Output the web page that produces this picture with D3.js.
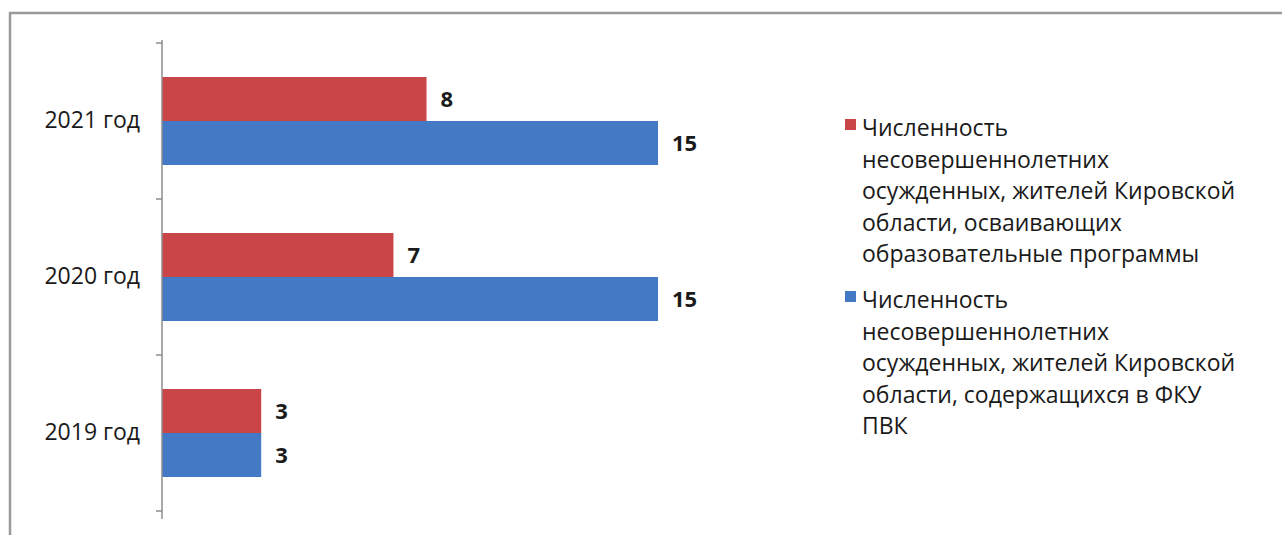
<!DOCTYPE html>
<html>
<head>
<meta charset="utf-8">
<script src="https://cdn.jsdelivr.net/npm/d3@7"></script>
<style>
  body { margin: 0; background: #fff; }
  svg { display: block; }
  text { font-family: "Open Sans", "DejaVu Sans", sans-serif; fill: #1a1a1a; }
</style>
</head>
<body>
<svg id="chart"></svg>
<script>
// categories, top to bottom
const years = ["2021 год", "2020 год", "2019 год"]
const seriesNames = [
  "Численность несовершеннолетних осужденных, жителей Кировской области, осваивающих образовательные программы",
  "Численность несовершеннолетних осужденных, жителей Кировской области, содержащихся в ФКУ ПВК"
]
const studying = [8, 7, 3]
const held = [15, 15, 3]
const seriesColors = ["#c94548", "#4479c6"]

const legendLines = [
  ["Численность", "несовершеннолетних", "осужденных, жителей Кировской", "области, осваивающих", "образовательные программы"],
  ["Численность", "несовершеннолетних", "осужденных, жителей Кировской", "области, содержащихся в ФКУ", "ПВК"]
]

const width = 1282, height = 535
const svg = d3.select("#chart").attr("width", width).attr("height", height)

// frame (only top and left edges are visible)
svg.append("line").attr("x1", 9).attr("x2", width).attr("y1", 13).attr("y2", 13)
  .attr("stroke", "#9a9a9a").attr("stroke-width", 2.5)
svg.append("line").attr("x1", 10).attr("x2", 10).attr("y1", 12).attr("y2", height)
  .attr("stroke", "#9a9a9a").attr("stroke-width", 2.5)

const x0 = 162
const y = d3.scaleBand().domain(years).range([43, 511]).paddingInner(0).paddingOuter(0)
const x = d3.scaleLinear().domain([0, 15]).range([x0, 658])
const inner = 44

const rows = years.map((yr, i) => ({ year: yr, vals: [studying[i], held[i]] }))

const g = svg.append("g")
rows.forEach(r => {
  const c = y(r.year) + y.bandwidth() / 2
  r.vals.forEach((v, s) => {
    const top = c - inner + s * inner
    g.append("rect")
      .attr("x", x(0)).attr("y", top)
      .attr("width", x(v) - x(0)).attr("height", inner)
      .attr("fill", seriesColors[s])
    g.append("text")
      .attr("x", x(v) + 14).attr("y", top + inner / 2)
      .attr("dy", "0.35em")
      .style("font-weight", "bold").style("font-size", "22px")
      .text(v)
  })
})

// category axis
const axis = d3.axisLeft(y).tickSize(0).tickPadding(22)
const ax = svg.append("g").attr("transform", `translate(${x0},0)`).call(axis)
ax.select(".domain").attr("stroke", "#8c8c8c").attr("stroke-width", 1.5)
  .attr("d", `M0,${y.range()[0] - 3}V${y.range()[1] + 8}`)
ax.selectAll(".tick text").style("font-size", "23px").attr("fill", "#1a1a1a")
  .attr("font-family", null)
// separator ticks between categories
const seps = years.map(d => y(d)).concat([y.range()[1]])
ax.selectAll(".sep").data(seps).enter().append("line")
  .attr("x1", -6).attr("x2", 0).attr("y1", d => d).attr("y2", d => d)
  .attr("stroke", "#8c8c8c").attr("stroke-width", 1.5)

// legend
const lg = svg.append("g").attr("transform", "translate(845,0)")
const legendTop = [136, 308]
legendLines.forEach((lines, s) => {
  lg.append("rect").attr("x", 0).attr("y", legendTop[s] - 17).attr("width", 11).attr("height", 11)
    .attr("fill", seriesColors[s])
  lines.forEach((ln, k) => {
    lg.append("text").attr("x", 17).attr("y", legendTop[s] + k * 31.5)
      .style("font-size", "23px").text(ln)
  })
})
</script>
</body>
</html>
